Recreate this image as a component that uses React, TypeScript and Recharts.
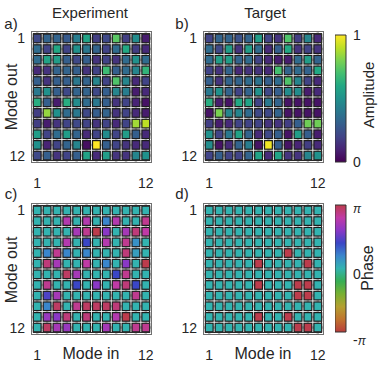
import { ScatterChart, Scatter, XAxis, YAxis, CartesianGrid, BarChart, Bar } from 'recharts';

const MODES = [1, 2, 3, 4, 5, 6, 7, 8, 9, 10, 11, 12];
const EDGE_TICKS = [1, 12];

// amplitude, rows = mode out, cols = mode in
const expAmp = [
  [0.22, 0.32, 0.32, 0.28, 0.42, 0.58, 0.18, 0.22, 0.74, 0.18, 0.48, 0.08],
  [0.35, 0.2, 0.6, 0.2, 0.5, 0.4, 0.32, 0.2, 0.35, 0.6, 0.18, 0.12],
  [0.35, 0.58, 0.55, 0.3, 0.22, 0.3, 0.15, 0.2, 0.15, 0.35, 0.5, 0.35],
  [0.12, 0.15, 0.32, 0.32, 0.3, 0.15, 0.2, 0.68, 0.3, 0.35, 0.45, 0.65],
  [0.3, 0.15, 0.3, 0.3, 0.4, 0.32, 0.45, 0.2, 0.72, 0.45, 0.12, 0.2],
  [0.4, 0.5, 0.3, 0.22, 0.32, 0.32, 0.22, 0.3, 0.45, 0.42, 0.08, 0.12],
  [0.62, 0.3, 0.08, 0.62, 0.48, 0.35, 0.4, 0.3, 0.15, 0.2, 0.1, 0.05],
  [0.18, 0.84, 0.5, 0.35, 0.4, 0.22, 0.3, 0.32, 0.15, 0.2, 0.12, 0.08],
  [0.18, 0.08, 0.15, 0.2, 0.22, 0.2, 0.15, 0.2, 0.12, 0.2, 0.86, 0.9],
  [0.55, 0.2, 0.35, 0.55, 0.32, 0.12, 0.2, 0.48, 0.2, 0.55, 0.3, 0.12],
  [0.5, 0.1, 0.2, 0.32, 0.45, 0.04, 1.0, 0.3, 0.2, 0.15, 0.12, 0.12],
  [0.22, 0.3, 0.15, 0.2, 0.3, 0.58, 0.12, 0.55, 0.15, 0.15, 0.45, 0.5],
];

const targetAmp = [
  [0.2, 0.32, 0.32, 0.25, 0.32, 0.55, 0.2, 0.15, 0.72, 0.18, 0.45, 0.12],
  [0.35, 0.22, 0.55, 0.15, 0.55, 0.35, 0.12, 0.3, 0.6, 0.15, 0.2, 0.15],
  [0.35, 0.55, 0.55, 0.32, 0.35, 0.2, 0.12, 0.08, 0.08, 0.35, 0.55, 0.32],
  [0.2, 0.15, 0.32, 0.12, 0.15, 0.15, 0.12, 0.7, 0.32, 0.35, 0.32, 0.6],
  [0.3, 0.15, 0.32, 0.32, 0.35, 0.38, 0.3, 0.35, 0.72, 0.45, 0.2, 0.12],
  [0.4, 0.5, 0.32, 0.2, 0.32, 0.5, 0.22, 0.3, 0.48, 0.48, 0.08, 0.12],
  [0.62, 0.08, 0.05, 0.6, 0.58, 0.2, 0.4, 0.32, 0.05, 0.05, 0.05, 0.05],
  [0.05, 0.8, 0.45, 0.45, 0.35, 0.22, 0.22, 0.32, 0.05, 0.05, 0.05, 0.05],
  [0.18, 0.08, 0.12, 0.2, 0.2, 0.2, 0.15, 0.15, 0.18, 0.3, 0.78, 0.78],
  [0.5, 0.2, 0.4, 0.58, 0.32, 0.12, 0.22, 0.3, 0.05, 0.55, 0.3, 0.08],
  [0.48, 0.05, 0.12, 0.32, 0.42, 0.05, 0.98, 0.3, 0.05, 0.1, 0.18, 0.12],
  [0.2, 0.3, 0.2, 0.2, 0.32, 0.58, 0.12, 0.58, 0.15, 0.15, 0.45, 0.5],
];

// phase in units of pi
const expPhase = [
  [0, 0, 0, 0, 0, 0, 0, 0, 0, 0, 0, 0],
  [0, 0, 0, 0.75, 0, 0.75, 0, 0.2, 0.75, 0, 0, 0.85],
  [0, 0, 0, 0, 0.7, 0.85, 1.0, 0.6, 0, 0.7, 0.9, 0.8],
  [0, 0, 0, 0.75, 0, 0.4, 0, 0.75, 0, 0.85, 0.15, 0],
  [0, 0.2, 0.85, 0.2, 0, 0.2, 0, 0, 0, 0.9, 0.1, 0],
  [0, 0.9, 0.7, 0, 0, 0.8, 0, 0.2, 0, 0.6, 0, 1.0],
  [0, 0, 0, 0.95, 0.7, 0, 0, 0, 0.4, 0.85, 0, 0],
  [0, 0.85, 0, 0, 0.4, 0, 0.6, 0, 0.8, 0.9, 0.4, 0],
  [0, 0.45, 0.7, 0, 0, 0, 0, 0, 0, 0, 0.85, 0],
  [0, 0.2, 0.95, 0, 0.85, 0.95, 0.95, 0.95, 0.9, 0, 0, 0],
  [0, 0.65, 0.6, 0.9, 0, 0.9, 0, 0, 0.75, 1.0, 0, 0],
  [0, 0.95, 0.7, 0.65, 0, 0, 0, 0.7, 0, 0, 0.85, 0.85],
];

const targetPhase = [
  [0, 0, 0, 0, 0, 0, 0, 0, 0, 0, 0, 0],
  [0, 0, 0, 0, 0, 0, 0, 0, 0, 0, 0, 0],
  [0, 0, 0, 0, 0, 0, 0, 0, 0, 0, 0, 0],
  [0, 0, 0, 0, 0, 0, 0, 0, 0, 0, 0, 0],
  [0, 0, 0, 0, 0, 0, 0, 0, 1, 0, 0, 0],
  [0, 0, 0, 0, 0, 1, 0, 0, 0, 0, 1, 0],
  [0, 0, 0, 0, 0, 0, 0, 0, 0, 0, 0, 0],
  [0, 0, 0, 0, 0, 1, 0, 0, 0, 1, 1, 0],
  [0, 0, 0, 0, 0, 0, 0, 0, 0, 1, 1, 0],
  [0, 0, 0, 0, 0, 0, 0, 0, 0, 0, 0, 0],
  [0, 0, 0, 0, 0, 1, 0, 0, 1, 0, 0, 0],
  [0, 0, 0, 0, 0, 0, 0, 0, 0, 1, 1, 0],
];

const VIRIDIS: [number, string][] = [
  [0, '#440154'], [0.1, '#482475'], [0.2, '#414487'], [0.3, '#355f8d'], [0.4, '#2a788e'],
  [0.5, '#21918c'], [0.6, '#22a884'], [0.7, '#44bf70'], [0.8, '#7ad151'], [0.9, '#bddf26'], [1, '#fde725'],
];

const PHASE_MAP: [number, string][] = [
  [-1, '#b83c3c'], [-0.8, '#c0742e'], [-0.6, '#b4a030'], [-0.4, '#78b032'], [-0.2, '#36ae54'],
  [0, '#33b3b0'], [0.2, '#3a86cc'], [0.4, '#3a46c6'], [0.6, '#8a38c6'], [0.8, '#c03aa6'], [1, '#bc3c4c'],
];

const hex = (c: string) => [1, 3, 5].map((i) => parseInt(c.slice(i, i + 2), 16));

function colorAt(stops: [number, string][], v: number) {
  const t = Math.max(stops[0][0], Math.min(stops[stops.length - 1][0], v));
  for (let i = 1; i < stops.length; i++) {
    if (t <= stops[i][0]) {
      const [a, ca] = stops[i - 1];
      const [b, cb] = stops[i];
      const f = (t - a) / (b - a);
      const A = hex(ca), B = hex(cb);
      return `rgb(${A.map((x, k) => Math.round(x + (B[k] - x) * f)).join(',')})`;
    }
  }
  return stops[stops.length - 1][1];
}

function toCells(matrix: number[][], stops: [number, string][]) {
  const cells: any[] = [];
  matrix.forEach((row, r) =>
    row.forEach((v, c) => cells.push({ modeIn: MODES[c], modeOut: MODES[r], value: v, color: colorAt(stops, v) }))
  );
  return cells;
}

const FONT = '"Liberation Sans", Arial, sans-serif';
const INK = '#262626';
const PLOT_W = 121;
const PLOT_H = 132;
const Y_AXIS_W = 31;
const X_AXIS_H = 30;
const RIGHT_PAD = 12;
const CELL_W = 7.8;
const CELL_H = 8.6;

const CellShape = (props: any) => (
  <rect
    x={props.cx - CELL_W / 2}
    y={props.cy - CELL_H / 2}
    width={CELL_W}
    height={CELL_H}
    fill={props.payload.color}
    stroke="#1c1c1c"
    strokeWidth={1.2}
  />
);

function Heatmap({ left, top, matrix, stops }: { left: number; top: number; matrix: number[][]; stops: [number, string][] }) {
  const tick = { fontSize: 14, fill: INK, fontFamily: FONT };
  return (
    <div style={{ position: 'absolute', left, top }}>
      <ScatterChart width={Y_AXIS_W + PLOT_W + RIGHT_PAD} height={PLOT_H + X_AXIS_H}
        margin={{ top: 0, right: RIGHT_PAD, bottom: 0, left: 0 }}>
        <CartesianGrid horizontalValues={MODES} verticalValues={MODES} stroke="#bdbdbd" strokeWidth={2.5} />
        <XAxis type="number" dataKey="modeIn" domain={[0.37, 12.63]} ticks={EDGE_TICKS} interval={0} height={X_AXIS_H}
          axisLine={false} tickLine={false} tickSize={6} tickMargin={9} tick={tick} />
        <YAxis type="number" dataKey="modeOut" domain={[0.3, 12.7]} reversed ticks={EDGE_TICKS} interval={0} width={Y_AXIS_W}
          axisLine={false} tickLine={false} tickSize={4} tickMargin={2} tick={tick} />
        <Scatter data={toCells(matrix, stops)} shape={CellShape} isAnimationActive={false} />
      </ScatterChart>
      <div style={{ position: 'absolute', left: Y_AXIS_W, top: 0, width: PLOT_W, height: PLOT_H, boxSizing: 'border-box',
        border: '1px solid #707070', pointerEvents: 'none' }}>
        <div style={{ position: 'absolute', left: 1, top: 1, right: 1, bottom: 1, border: '1px solid #2a2a2a' }} />
      </div>
    </div>
  );
}

const barData = [{ name: 'cb', amp: [0, 1], phase: [-Math.PI, Math.PI] }];
const AMP_TICKS = [0, 1];
const PHASE_TICKS = [-Math.PI, 0, Math.PI];
const CB_PAD = 22;

const PhaseTick = (p: any) => {
  const v = p.payload.value;
  const label = v > 0.1 ? 'π' : v < -0.1 ? '-π' : '0';
  return (
    <text x={p.x} y={p.y} dy={v < -0.1 ? 13 : v > 0.1 ? 8 : 10} textAnchor="start" fill={INK} fontFamily={FONT} fontSize={14}>
      {label === '0' ? '0' : label === 'π' ? <tspan fontStyle="italic" fontSize={12}>π</tspan> :
        <>-<tspan fontStyle="italic" fontSize={12}>π</tspan></>}
    </text>
  );
};

function ColorBar({ top, dataKey, gradId, stops, domain, ticks, phase }: any) {
  return (
    <div style={{ position: 'absolute', left: 335, top: top - CB_PAD }}>
      <BarChart width={41} height={127 + 2 * CB_PAD} data={barData}
        margin={{ top: CB_PAD, right: 0, bottom: CB_PAD, left: 0 }} barCategoryGap={0}>
        <defs>
          <linearGradient id={gradId} x1="0" y1="1" x2="0" y2="0">
            {stops.map(([v, c]: [number, string]) => (
              <stop key={v} offset={`${((v - stops[0][0]) / (stops[stops.length - 1][0] - stops[0][0])) * 100}%`} stopColor={c} />
            ))}
          </linearGradient>
        </defs>
        <XAxis dataKey="name" hide />
        <YAxis orientation="right" type="number" domain={domain} ticks={ticks} interval={0} width={30} axisLine={false} tickLine={false}
          tickSize={5} tickMargin={2}
          tick={phase ? PhaseTick : { fontSize: 14, fill: INK, fontFamily: FONT }} />
        <Bar dataKey={dataKey} fill={`url(#${gradId})`} stroke="#333" strokeWidth={1} isAnimationActive={false} />
      </BarChart>
    </div>
  );
}

const Text = ({ x, y, children, size = 15, rotate = false }: any) => (
  <div style={{ position: 'absolute', left: x, top: y, transform: `translate(-50%, -50%)${rotate ? ' rotate(-90deg)' : ''}`,
    fontFamily: FONT, fontSize: size, color: INK, whiteSpace: 'nowrap', lineHeight: 1 }}>
    {children}
  </div>
);

export default function App() {
  return (
    <div style={{ position: 'absolute', left: 0, top: 0, width: 380, height: 379, background: '#fff' }}>
      <Heatmap left={0} top={31} matrix={expAmp} stops={VIRIDIS} />
      <Heatmap left={172} top={31} matrix={targetAmp} stops={VIRIDIS} />
      <Heatmap left={0} top={203} matrix={expPhase} stops={PHASE_MAP} />
      <Heatmap left={172} top={203} matrix={targetPhase} stops={PHASE_MAP} />
      <ColorBar top={35} dataKey="amp" gradId="ampGrad" stops={VIRIDIS} domain={[0, 1]} ticks={AMP_TICKS} />
      <ColorBar top={205} dataKey="phase" gradId="phaseGrad" stops={PHASE_MAP} domain={[-Math.PI, Math.PI]} ticks={PHASE_TICKS} phase />
      <Text x={90} y={12}>Experiment</Text>
      <Text x={265} y={12}>Target</Text>
      <Text x={11} y={23}>a)</Text>
      <Text x={182} y={23}>b)</Text>
      <Text x={11} y={193}>c)</Text>
      <Text x={182} y={193}>d)</Text>
      <Text x={12} y={97} size={16} rotate>Mode out</Text>
      <Text x={12} y={270} size={16} rotate>Mode out</Text>
      <Text x={91} y={354} size={16}>Mode in</Text>
      <Text x={263} y={354} size={16}>Mode in</Text>
      <Text x={368} y={95} rotate>Amplitude</Text>
      <Text x={368} y={268} size={16} rotate>Phase</Text>
    </div>
  );
}
